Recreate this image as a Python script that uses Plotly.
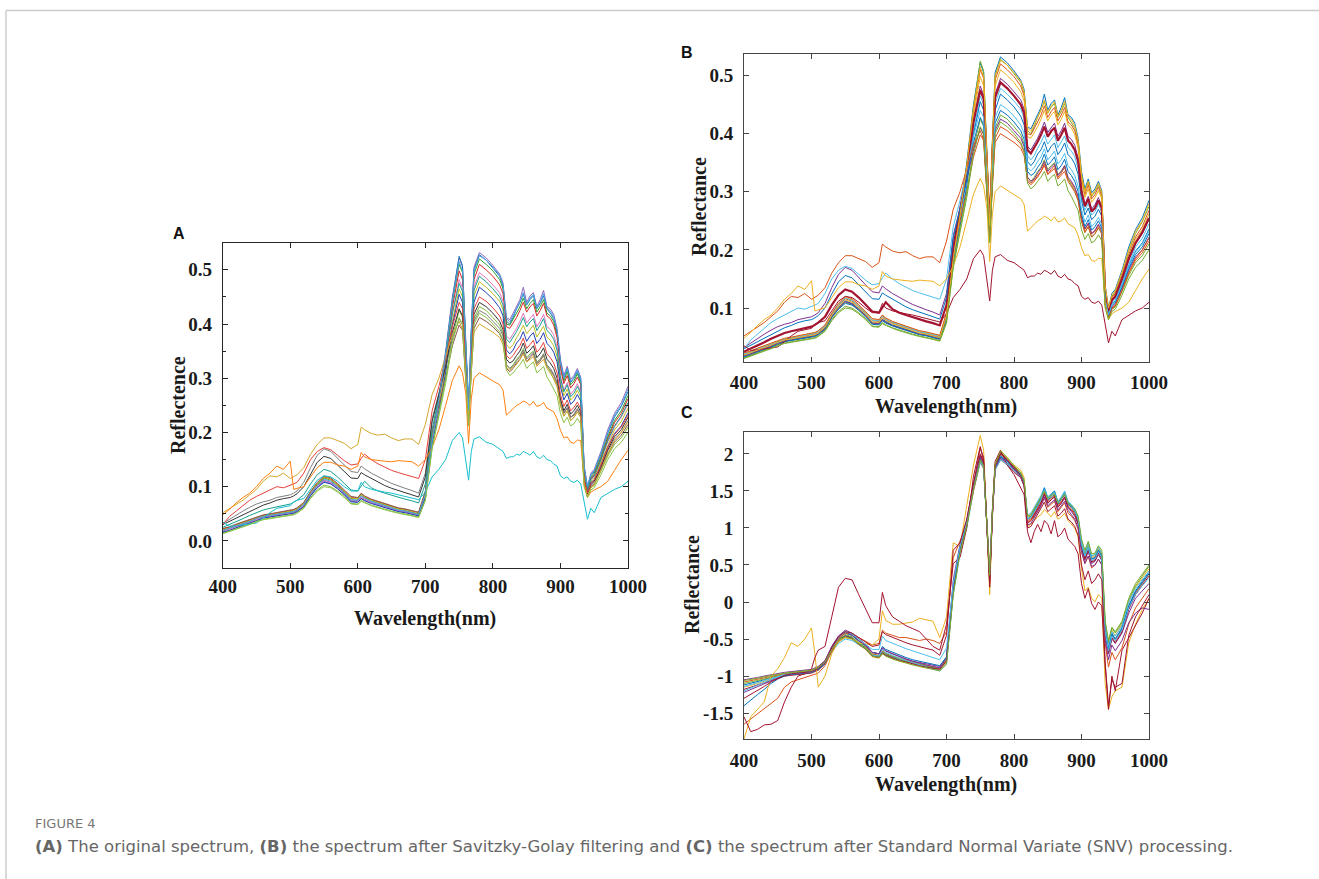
import plotly.graph_objects as go

# ---------------- data ----------------
wavelength = [400, 410, 420, 430, 440, 450, 460, 470, 480, 490,
              500, 505, 510, 520, 530, 540, 550, 560, 570, 580,
              590, 600, 605, 610, 620, 630, 640, 650, 660, 670,
              680, 690, 700, 710, 720, 730, 740, 750, 755, 760,
              764, 768, 772, 780, 790, 800, 810, 815, 820, 825,
              830, 835, 840, 845, 850, 855, 860, 865, 870, 875,
              880, 885, 890, 895, 900, 905, 910, 915, 920, 925,
              930, 935, 940, 945, 950, 960, 970, 980, 990, 1000]

# reflectance spectra (panels A and B)
raw_01 = [0.018,0.022,0.026,0.031,0.035,0.040,0.044,0.046,0.048,0.050,0.051,0.053,0.056,0.066,0.086,0.101,0.112,0.108,0.099,0.088,0.075,0.074,0.081,0.077,0.071,0.067,0.063,0.059,0.056,0.054,0.051,0.048,0.085,
          0.185,0.265,0.350,0.450,0.522,0.505,0.360,0.245,0.385,0.505,0.532,0.522,0.508,0.492,0.476,0.412,0.408,0.420,0.432,0.445,0.468,0.440,0.452,0.458,0.432,0.445,0.462,0.432,0.428,0.418,0.392,0.335,0.305,0.322,0.298,0.305,0.318,0.302,0.140,0.100,0.125,0.132,0.165,0.205,0.235,0.255,0.285]
raw_02 = [0.015,0.020,0.025,0.029,0.034,0.038,0.043,0.045,0.047,0.049,0.050,0.052,0.055,0.064,0.084,0.099,0.110,0.106,0.097,0.086,0.073,0.072,0.079,0.075,0.070,0.066,0.062,0.058,0.055,0.053,0.050,0.047,0.080,
          0.180,0.258,0.345,0.445,0.525,0.508,0.365,0.250,0.390,0.500,0.528,0.518,0.503,0.488,0.470,0.405,0.400,0.412,0.428,0.440,0.455,0.435,0.445,0.452,0.428,0.438,0.452,0.428,0.420,0.410,0.385,0.330,0.300,0.318,0.292,0.300,0.312,0.296,0.135,0.098,0.120,0.128,0.160,0.198,0.228,0.248,0.275]
raw_03 = [0.020,0.024,0.028,0.033,0.037,0.042,0.046,0.048,0.050,0.052,0.053,0.055,0.058,0.068,0.088,0.104,0.116,0.112,0.102,0.090,0.078,0.077,0.085,0.080,0.074,0.070,0.066,0.062,0.059,0.056,0.053,0.050,0.088,
          0.190,0.262,0.342,0.440,0.510,0.495,0.355,0.240,0.378,0.492,0.520,0.510,0.498,0.482,0.465,0.400,0.398,0.408,0.420,0.432,0.448,0.428,0.438,0.445,0.422,0.432,0.445,0.420,0.415,0.405,0.380,0.322,0.295,0.312,0.288,0.295,0.308,0.292,0.132,0.095,0.118,0.125,0.155,0.192,0.222,0.240,0.268]
raw_04 = [0.022,0.025,0.030,0.034,0.039,0.043,0.047,0.049,0.051,0.053,0.055,0.057,0.060,0.070,0.090,0.106,0.118,0.114,0.104,0.092,0.080,0.079,0.087,0.082,0.076,0.072,0.068,0.064,0.060,0.058,0.055,0.052,0.090,
          0.188,0.255,0.335,0.430,0.498,0.482,0.345,0.235,0.370,0.482,0.510,0.500,0.488,0.472,0.456,0.395,0.392,0.402,0.412,0.425,0.440,0.422,0.432,0.438,0.415,0.425,0.438,0.415,0.410,0.398,0.375,0.318,0.290,0.305,0.282,0.290,0.302,0.288,0.128,0.092,0.115,0.122,0.152,0.188,0.218,0.235,0.262]
raw_05 = [0.017,0.021,0.025,0.030,0.034,0.039,0.043,0.045,0.047,0.049,0.050,0.052,0.055,0.065,0.085,0.100,0.111,0.107,0.098,0.087,0.074,0.073,0.080,0.076,0.070,0.066,0.062,0.058,0.055,0.053,0.050,0.047,0.082,
          0.182,0.250,0.325,0.418,0.482,0.466,0.335,0.232,0.360,0.468,0.495,0.485,0.472,0.458,0.442,0.378,0.372,0.382,0.392,0.405,0.420,0.402,0.410,0.418,0.395,0.405,0.418,0.395,0.390,0.380,0.358,0.305,0.278,0.292,0.270,0.278,0.290,0.275,0.125,0.092,0.112,0.118,0.148,0.182,0.210,0.228,0.252]
raw_06 = [0.021,0.024,0.029,0.033,0.038,0.042,0.046,0.048,0.050,0.052,0.054,0.056,0.059,0.069,0.089,0.105,0.117,0.113,0.103,0.091,0.079,0.078,0.086,0.081,0.075,0.071,0.067,0.063,0.059,0.057,0.054,0.051,0.088,
          0.195,0.252,0.318,0.405,0.465,0.450,0.325,0.228,0.348,0.452,0.478,0.468,0.456,0.442,0.426,0.362,0.355,0.362,0.375,0.385,0.398,0.382,0.390,0.398,0.376,0.385,0.396,0.376,0.370,0.360,0.340,0.292,0.268,0.280,0.260,0.266,0.278,0.265,0.120,0.090,0.110,0.115,0.145,0.178,0.205,0.220,0.245]
raw_07 = [0.016,0.019,0.024,0.028,0.033,0.037,0.042,0.044,0.046,0.048,0.049,0.051,0.054,0.063,0.083,0.098,0.108,0.105,0.096,0.085,0.072,0.071,0.078,0.074,0.069,0.065,0.061,0.057,0.054,0.052,0.049,0.046,0.080,
          0.178,0.240,0.310,0.398,0.455,0.440,0.318,0.222,0.340,0.440,0.468,0.458,0.446,0.430,0.415,0.352,0.345,0.352,0.365,0.372,0.386,0.368,0.378,0.384,0.364,0.372,0.384,0.364,0.358,0.348,0.330,0.285,0.260,0.272,0.252,0.258,0.270,0.258,0.118,0.088,0.108,0.112,0.140,0.172,0.198,0.212,0.236]
raw_08 = [0.023,0.026,0.031,0.035,0.040,0.044,0.048,0.050,0.052,0.054,0.056,0.058,0.061,0.071,0.091,0.108,0.120,0.116,0.106,0.094,0.082,0.080,0.088,0.083,0.077,0.073,0.069,0.065,0.061,0.059,0.056,0.053,0.092,
          0.200,0.250,0.300,0.360,0.398,0.388,0.290,0.215,0.310,0.392,0.412,0.405,0.395,0.382,0.368,0.318,0.312,0.318,0.328,0.335,0.348,0.330,0.338,0.345,0.325,0.332,0.342,0.322,0.315,0.305,0.290,0.255,0.235,0.245,0.228,0.232,0.242,0.232,0.108,0.085,0.100,0.105,0.130,0.160,0.182,0.195,0.215]
raw_09 = [0.014,0.018,0.022,0.027,0.031,0.036,0.040,0.042,0.044,0.046,0.047,0.049,0.052,0.061,0.080,0.094,0.103,0.100,0.092,0.082,0.069,0.068,0.075,0.071,0.066,0.062,0.058,0.055,0.052,0.050,0.047,0.044,0.076,
          0.172,0.235,0.298,0.375,0.425,0.412,0.300,0.215,0.322,0.410,0.432,0.425,0.412,0.398,0.382,0.325,0.318,0.325,0.335,0.342,0.355,0.338,0.345,0.350,0.330,0.335,0.345,0.322,0.312,0.300,0.285,0.250,0.230,0.240,0.222,0.228,0.238,0.228,0.106,0.083,0.098,0.102,0.128,0.156,0.178,0.190,0.210]
raw_10 = [0.025,0.030,0.036,0.041,0.047,0.052,0.057,0.060,0.063,0.066,0.068,0.071,0.075,0.085,0.105,0.122,0.132,0.128,0.118,0.106,0.094,0.092,0.100,0.110,0.098,0.092,0.088,0.084,0.080,0.077,0.074,0.070,0.105,
          0.205,0.268,0.335,0.420,0.475,0.460,0.335,0.238,0.358,0.462,0.488,0.478,0.465,0.450,0.435,0.372,0.366,0.375,0.386,0.398,0.412,0.395,0.404,0.410,0.388,0.398,0.410,0.388,0.382,0.372,0.352,0.300,0.275,0.288,0.266,0.272,0.285,0.272,0.125,0.094,0.114,0.120,0.150,0.185,0.212,0.230,0.255]
raw_11 = [0.032,0.040,0.048,0.055,0.062,0.068,0.072,0.075,0.080,0.083,0.085,0.088,0.092,0.108,0.135,0.158,0.170,0.165,0.152,0.140,0.128,0.126,0.138,0.133,0.125,0.118,0.112,0.106,0.101,0.097,0.093,0.088,0.125,
          0.225,0.272,0.320,0.372,0.410,0.398,0.300,0.222,0.322,0.405,0.425,0.418,0.405,0.392,0.378,0.325,0.318,0.322,0.332,0.340,0.352,0.335,0.342,0.348,0.328,0.335,0.345,0.325,0.318,0.308,0.292,0.256,0.236,0.246,0.228,0.234,0.244,0.234,0.110,0.086,0.102,0.108,0.134,0.165,0.188,0.200,0.222]
raw_12 = [0.030,0.036,0.042,0.048,0.054,0.060,0.066,0.070,0.075,0.078,0.080,0.083,0.087,0.100,0.124,0.145,0.156,0.152,0.140,0.128,0.116,0.115,0.126,0.122,0.115,0.108,0.102,0.097,0.093,0.089,0.085,0.081,0.118,
          0.220,0.270,0.322,0.385,0.428,0.415,0.310,0.226,0.330,0.418,0.440,0.432,0.420,0.405,0.390,0.335,0.328,0.332,0.342,0.350,0.365,0.346,0.352,0.360,0.338,0.345,0.356,0.335,0.328,0.318,0.300,0.262,0.240,0.252,0.234,0.240,0.250,0.238,0.112,0.087,0.104,0.110,0.136,0.168,0.192,0.205,0.228]
raw_13 = [0.030,0.045,0.055,0.065,0.075,0.082,0.088,0.095,0.100,0.098,0.102,0.105,0.108,0.125,0.150,0.165,0.172,0.168,0.158,0.148,0.140,0.142,0.152,0.160,0.150,0.142,0.136,0.130,0.126,0.122,0.119,0.115,0.150,
          0.240,0.285,0.335,0.395,0.440,0.428,0.318,0.230,0.338,0.428,0.450,0.442,0.430,0.415,0.400,0.342,0.336,0.342,0.352,0.360,0.374,0.355,0.362,0.370,0.348,0.355,0.366,0.345,0.338,0.328,0.310,0.270,0.248,0.260,0.240,0.246,0.256,0.244,0.115,0.088,0.106,0.112,0.140,0.172,0.196,0.210,0.232]
raw_14 = [0.052,0.060,0.068,0.075,0.085,0.095,0.110,0.120,0.118,0.125,0.115,0.118,0.122,0.135,0.160,0.178,0.190,0.190,0.185,0.180,0.170,0.178,0.210,0.205,0.198,0.195,0.197,0.190,0.185,0.188,0.188,0.178,0.215,
          0.270,0.300,0.340,0.380,0.405,0.390,0.300,0.225,0.310,0.385,0.400,0.392,0.385,0.375,0.362,0.320,0.315,0.320,0.325,0.335,0.345,0.330,0.335,0.340,0.322,0.328,0.335,0.318,0.310,0.300,0.285,0.250,0.230,0.240,0.222,0.228,0.238,0.228,0.105,0.082,0.098,0.104,0.130,0.160,0.185,0.200,0.220]
raw_15 = [0.048,0.058,0.070,0.080,0.088,0.100,0.115,0.125,0.138,0.132,0.147,0.095,0.097,0.100,0.118,0.135,0.145,0.145,0.140,0.138,0.132,0.138,0.163,0.155,0.150,0.148,0.147,0.146,0.148,0.147,0.146,0.138,0.150,
          0.172,0.205,0.250,0.296,0.323,0.310,0.270,0.180,0.262,0.300,0.310,0.302,0.295,0.288,0.278,0.232,0.238,0.245,0.250,0.253,0.258,0.255,0.250,0.257,0.248,0.250,0.255,0.245,0.242,0.238,0.225,0.204,0.190,0.192,0.182,0.180,0.186,0.185,0.106,0.080,0.090,0.094,0.100,0.110,0.130,0.150,0.167]
raw_16 = [0.035,0.027,0.028,0.030,0.031,0.033,0.042,0.052,0.060,0.062,0.065,0.072,0.075,0.078,0.096,0.112,0.120,0.118,0.110,0.100,0.092,0.092,0.108,0.100,0.095,0.092,0.090,0.088,0.085,0.082,0.078,0.076,0.090,
          0.118,0.132,0.150,0.185,0.200,0.190,0.150,0.112,0.165,0.188,0.192,0.182,0.178,0.170,0.165,0.152,0.155,0.155,0.160,0.158,0.165,0.162,0.158,0.165,0.155,0.152,0.158,0.150,0.148,0.142,0.138,0.120,0.115,0.118,0.110,0.108,0.112,0.105,0.070,0.040,0.060,0.052,0.080,0.088,0.095,0.100,0.110]
raw_17 = [0.019,0.023,0.027,0.032,0.036,0.041,0.045,0.047,0.049,0.051,0.052,0.054,0.057,0.067,0.087,0.102,0.114,0.110,0.100,0.089,0.076,0.075,0.083,0.079,0.073,0.069,0.065,0.061,0.057,0.055,0.052,0.049,0.086,
          0.184,0.260,0.345,0.442,0.515,0.498,0.358,0.242,0.382,0.498,0.526,0.518,0.505,0.490,0.472,0.410,0.404,0.416,0.426,0.440,0.458,0.436,0.448,0.455,0.430,0.440,0.456,0.430,0.424,0.414,0.388,0.328,0.300,0.318,0.294,0.302,0.315,0.300,0.138,0.100,0.122,0.130,0.162,0.200,0.232,0.250,0.280]
raw_18 = [0.013,0.017,0.021,0.026,0.030,0.035,0.039,0.041,0.043,0.045,0.046,0.048,0.051,0.060,0.078,0.092,0.100,0.098,0.090,0.080,0.068,0.067,0.073,0.070,0.065,0.061,0.057,0.054,0.051,0.049,0.046,0.043,0.074,
          0.170,0.232,0.290,0.365,0.412,0.400,0.295,0.212,0.315,0.400,0.420,0.412,0.400,0.385,0.370,0.315,0.305,0.310,0.318,0.325,0.335,0.318,0.325,0.330,0.310,0.315,0.322,0.302,0.292,0.280,0.268,0.235,0.218,0.228,0.212,0.216,0.226,0.216,0.100,0.080,0.094,0.098,0.122,0.150,0.170,0.182,0.200]

raw_spectra = [raw_01, raw_02, raw_03, raw_04, raw_05, raw_06, raw_07, raw_08, raw_09,
               raw_10, raw_11, raw_12, raw_13, raw_14, raw_15, raw_16, raw_17, raw_18]

# SNV-processed spectra (panel C)
snv_01 = [-1.12,-1.10,-1.07,-1.05,-1.02,-1.00,-0.98,-0.97,-0.96,-0.95,-0.94,-0.92,-0.90,-0.82,-0.65,-0.52,-0.45,-0.48,-0.56,-0.62,-0.72,-0.74,-0.68,-0.71,-0.75,-0.78,-0.80,-0.83,-0.85,-0.87,-0.89,-0.90,-0.80,
          0.15,0.70,1.05,1.55,1.95,1.85,1.05,0.35,1.20,1.80,1.98,1.90,1.80,1.72,1.62,1.12,1.15,1.22,1.30,1.38,1.50,1.38,1.42,1.45,1.32,1.38,1.45,1.32,1.28,1.22,1.10,0.78,0.62,0.75,0.58,0.60,0.70,0.62,-0.35,-0.62,-0.42,-0.50,-0.35,-0.05,0.15,0.28,0.40]
snv_02 = [-1.08,-1.06,-1.04,-1.02,-1.00,-0.98,-0.96,-0.95,-0.94,-0.93,-0.92,-0.90,-0.88,-0.80,-0.62,-0.49,-0.42,-0.45,-0.53,-0.60,-0.70,-0.72,-0.66,-0.69,-0.73,-0.76,-0.79,-0.82,-0.84,-0.86,-0.88,-0.89,-0.78,
          0.18,0.72,1.08,1.58,1.98,1.88,1.02,0.30,1.18,1.82,2.00,1.92,1.82,1.74,1.64,1.10,1.12,1.20,1.28,1.36,1.48,1.36,1.40,1.44,1.30,1.36,1.42,1.30,1.26,1.20,1.08,0.75,0.60,0.72,0.55,0.58,0.68,0.60,-0.40,-0.65,-0.45,-0.52,-0.38,-0.08,0.12,0.25,0.38]
snv_03 = [-1.15,-1.13,-1.10,-1.07,-1.04,-1.02,-1.00,-0.98,-0.97,-0.96,-0.95,-0.93,-0.91,-0.84,-0.67,-0.54,-0.48,-0.50,-0.58,-0.64,-0.74,-0.76,-0.70,-0.73,-0.77,-0.80,-0.82,-0.85,-0.87,-0.89,-0.91,-0.92,-0.82,
          0.12,0.68,1.02,1.52,1.92,1.82,1.08,0.38,1.22,1.78,1.95,1.88,1.78,1.70,1.60,1.15,1.18,1.25,1.32,1.40,1.52,1.40,1.44,1.48,1.35,1.40,1.48,1.35,1.30,1.25,1.12,0.80,0.65,0.78,0.60,0.62,0.72,0.65,-0.30,-0.58,-0.38,-0.46,-0.30,0.00,0.20,0.32,0.45]
snv_04 = [-1.05,-1.04,-1.02,-1.00,-0.98,-0.97,-0.95,-0.94,-0.93,-0.92,-0.91,-0.89,-0.87,-0.79,-0.60,-0.46,-0.38,-0.42,-0.50,-0.57,-0.68,-0.70,-0.62,-0.66,-0.70,-0.74,-0.77,-0.80,-0.82,-0.84,-0.86,-0.87,-0.75,
          0.20,0.75,1.10,1.60,1.97,1.87,1.00,0.28,1.15,1.80,1.96,1.88,1.78,1.70,1.58,1.08,1.10,1.18,1.25,1.32,1.45,1.33,1.38,1.42,1.28,1.33,1.40,1.28,1.22,1.16,1.05,0.72,0.56,0.68,0.52,0.55,0.64,0.56,-0.45,-0.70,-0.50,-0.56,-0.42,-0.15,0.05,0.15,0.25]
snv_05 = [-1.10,-1.08,-1.06,-1.04,-1.01,-0.99,-0.97,-0.96,-0.95,-0.94,-0.93,-0.91,-0.89,-0.81,-0.64,-0.51,-0.44,-0.47,-0.55,-0.61,-0.71,-0.73,-0.67,-0.70,-0.74,-0.77,-0.80,-0.82,-0.85,-0.87,-0.88,-0.90,-0.79,
          0.14,0.70,1.04,1.54,1.94,1.86,1.06,0.34,1.22,1.84,2.02,1.94,1.84,1.75,1.64,1.14,1.16,1.24,1.32,1.40,1.52,1.40,1.44,1.48,1.34,1.40,1.46,1.34,1.30,1.24,1.14,0.82,0.66,0.80,0.62,0.64,0.74,0.66,-0.28,-0.55,-0.35,-0.42,-0.28,0.02,0.22,0.35,0.48]
snv_06 = [-1.14,-1.12,-1.09,-1.06,-1.03,-1.01,-0.99,-0.98,-0.97,-0.96,-0.95,-0.93,-0.92,-0.84,-0.68,-0.56,-0.50,-0.52,-0.58,-0.63,-0.72,-0.73,-0.64,-0.68,-0.72,-0.76,-0.79,-0.82,-0.85,-0.88,-0.90,-0.93,-0.84,
          0.10,0.65,1.00,1.50,1.88,1.80,1.10,0.40,1.25,1.82,1.94,1.88,1.80,1.72,1.63,1.18,1.20,1.28,1.36,1.44,1.55,1.42,1.46,1.50,1.36,1.42,1.50,1.36,1.32,1.26,1.14,0.82,0.68,0.80,0.62,0.64,0.74,0.66,-0.32,-0.60,-0.40,-0.46,-0.32,0.00,0.18,0.30,0.42]
snv_07 = [-1.18,-1.15,-1.12,-1.08,-1.05,-1.02,-1.00,-0.99,-0.98,-0.97,-0.96,-0.94,-0.92,-0.83,-0.66,-0.53,-0.46,-0.49,-0.57,-0.63,-0.73,-0.75,-0.69,-0.72,-0.76,-0.79,-0.81,-0.84,-0.86,-0.88,-0.90,-0.91,-0.80,
          0.16,0.72,1.06,1.56,2.00,1.90,1.04,0.32,1.18,1.82,2.00,1.92,1.82,1.72,1.60,1.06,1.10,1.18,1.26,1.34,1.46,1.34,1.38,1.42,1.28,1.34,1.42,1.28,1.24,1.18,1.06,0.74,0.58,0.70,0.54,0.56,0.66,0.58,-0.42,-0.68,-0.48,-0.55,-0.40,-0.10,0.10,0.22,0.35]
snv_08 = [-1.40,-1.32,-1.25,-1.18,-1.10,-1.04,-1.00,-0.98,-0.97,-0.96,-0.95,-0.93,-0.91,-0.83,-0.65,-0.50,-0.42,-0.45,-0.53,-0.59,-0.68,-0.70,-0.60,-0.64,-0.68,-0.72,-0.75,-0.78,-0.80,-0.82,-0.84,-0.86,-0.74,
          0.22,0.74,1.08,1.58,1.92,1.84,1.08,0.36,1.20,1.80,1.96,1.90,1.80,1.72,1.62,1.12,1.14,1.22,1.32,1.40,1.54,1.40,1.45,1.50,1.34,1.40,1.48,1.34,1.30,1.24,1.12,0.76,0.62,0.74,0.58,0.60,0.70,0.62,-0.38,-0.64,-0.44,-0.50,-0.36,-0.06,0.14,0.26,0.38]
snv_09 = [-1.65,-1.58,-1.52,-1.45,-1.38,-1.30,-1.15,-1.08,-1.05,-1.02,-1.00,-0.98,-0.96,-0.86,-0.66,-0.50,-0.42,-0.43,-0.48,-0.52,-0.58,-0.56,-0.38,-0.42,-0.45,-0.48,-0.48,-0.50,-0.52,-0.50,-0.52,-0.56,-0.40,
          0.60,0.82,1.05,1.50,1.90,1.80,1.10,0.45,1.20,1.78,1.92,1.85,1.75,1.68,1.58,1.08,1.10,1.15,1.22,1.30,1.40,1.28,1.32,1.36,1.22,1.28,1.34,1.20,1.16,1.10,0.98,0.68,0.52,0.62,0.46,0.50,0.58,0.50,-0.55,-0.88,-0.68,-0.78,-0.62,-0.30,-0.08,0.05,0.18]
snv_10 = [-1.85,-1.55,-1.45,-1.35,-1.00,-0.90,-0.75,-0.55,-0.60,-0.50,-0.35,-0.70,-1.15,-1.00,-0.70,-0.52,-0.48,-0.50,-0.55,-0.56,-0.58,-0.50,-0.12,-0.25,-0.30,-0.30,-0.28,-0.27,-0.22,-0.24,-0.26,-0.48,-0.20,
          0.80,0.75,1.30,1.85,2.25,2.05,1.00,0.10,1.20,1.85,2.05,1.95,1.85,1.78,1.68,1.02,1.05,1.10,1.15,1.18,1.25,1.20,1.15,1.22,1.12,1.15,1.20,1.10,1.05,1.00,0.88,0.45,0.15,0.20,0.05,0.00,0.10,0.05,-1.10,-1.45,-1.28,-1.20,-1.15,-0.55,-0.30,-0.10,0.05]
snv_11 = [-1.55,-1.75,-1.72,-1.66,-1.65,-1.60,-1.35,-1.15,-1.00,-0.97,-0.90,-0.75,-0.65,-0.60,-0.20,0.20,0.32,0.30,0.10,-0.10,-0.28,-0.28,0.13,-0.05,-0.20,-0.26,-0.32,-0.36,-0.40,-0.50,-0.60,-0.65,-0.30,
          0.52,0.60,1.00,1.70,2.10,1.90,1.00,0.20,1.25,1.90,2.05,1.85,1.72,1.55,1.45,0.95,0.80,0.95,1.05,0.95,1.10,1.05,0.92,1.10,0.88,0.92,1.00,0.85,0.80,0.75,0.65,0.25,0.05,0.18,-0.02,-0.10,0.00,-0.05,-0.85,-1.45,-1.00,-1.20,-0.65,-0.48,-0.30,-0.15,0.05]
snv_12 = [-1.22,-1.18,-1.14,-1.10,-1.06,-1.02,-0.99,-0.97,-0.96,-0.95,-0.94,-0.92,-0.90,-0.80,-0.60,-0.46,-0.40,-0.44,-0.52,-0.58,-0.68,-0.70,-0.62,-0.66,-0.70,-0.74,-0.77,-0.80,-0.83,-0.85,-0.87,-0.89,-0.76,
          0.30,0.78,1.10,1.58,1.95,1.86,1.04,0.30,1.16,1.80,1.94,1.86,1.76,1.68,1.56,1.04,1.06,1.14,1.22,1.30,1.42,1.30,1.34,1.38,1.24,1.30,1.36,1.24,1.18,1.12,1.00,0.68,0.52,0.62,0.48,0.50,0.58,0.50,-0.50,-0.78,-0.58,-0.66,-0.52,-0.28,-0.15,-0.08,-0.10]
snv_13 = [-1.20,-1.16,-1.12,-1.08,-1.04,-1.01,-0.98,-0.97,-0.96,-0.95,-0.94,-0.92,-0.90,-0.82,-0.63,-0.48,-0.40,-0.43,-0.50,-0.56,-0.64,-0.64,-0.46,-0.52,-0.56,-0.60,-0.63,-0.66,-0.69,-0.72,-0.75,-0.78,-0.62,
          0.25,0.75,1.08,1.55,1.90,1.82,1.08,0.38,1.22,1.78,1.92,1.86,1.78,1.70,1.60,1.12,1.14,1.22,1.30,1.38,1.52,1.40,1.44,1.48,1.34,1.40,1.48,1.34,1.30,1.24,1.12,0.78,0.62,0.74,0.56,0.58,0.68,0.60,-0.40,-0.66,-0.46,-0.52,-0.38,-0.08,0.10,0.22,0.32]
snv_14 = [-1.30,-1.25,-1.20,-1.14,-1.08,-1.03,-0.99,-0.97,-0.96,-0.95,-0.94,-0.92,-0.90,-0.82,-0.62,-0.47,-0.40,-0.42,-0.48,-0.53,-0.60,-0.58,-0.40,-0.44,-0.48,-0.52,-0.55,-0.58,-0.60,-0.62,-0.65,-0.72,-0.45,
          0.70,0.80,1.12,1.62,2.08,1.95,1.00,0.25,1.20,1.85,2.02,1.92,1.80,1.70,1.58,1.00,1.02,1.10,1.18,1.25,1.35,1.22,1.26,1.30,1.16,1.20,1.26,1.12,1.08,1.02,0.90,0.50,0.30,0.42,0.25,0.30,0.38,0.30,-0.80,-1.40,-1.05,-1.15,-1.10,-0.45,-0.20,-0.05,0.10]
snv_15 = [-1.06,-1.05,-1.03,-1.01,-0.99,-0.98,-0.96,-0.95,-0.94,-0.93,-0.92,-0.90,-0.88,-0.81,-0.64,-0.52,-0.47,-0.50,-0.57,-0.63,-0.73,-0.75,-0.70,-0.73,-0.77,-0.80,-0.82,-0.85,-0.87,-0.89,-0.91,-0.93,-0.84,
          0.10,0.66,1.02,1.52,1.92,1.84,1.06,0.36,1.22,1.86,2.04,1.95,1.84,1.74,1.64,1.16,1.18,1.26,1.34,1.42,1.50,1.40,1.44,1.46,1.34,1.40,1.46,1.34,1.30,1.26,1.16,0.85,0.70,0.82,0.65,0.66,0.76,0.70,-0.25,-0.52,-0.34,-0.40,-0.26,0.05,0.25,0.38,0.50]

snv_spectra = [snv_01, snv_02, snv_03, snv_04, snv_05, snv_06, snv_07, snv_08,
               snv_09, snv_10, snv_11, snv_12, snv_13, snv_14, snv_15]

x_ticks = [400, 500, 600, 700, 800, 900, 1000]
a_yticks = [0.0, 0.1, 0.2, 0.3, 0.4, 0.5]
a_yticklabels = ["0.0", "0.1", "0.2", "0.3", "0.4", "0.5"]
b_yticks = [0.1, 0.2, 0.3, 0.4, 0.5]
b_yticklabels = ["0.1", "0.2", "0.3", "0.4", "0.5"]
c_yticks = [-1.5, -1, -0.5, 0, 0.5, 1, 1.5, 2]
c_yticklabels = ["-1.5", "-1", "-0.5", "0", "0.5", "1", "1.5", "2"]

colors_a = ["#9467bd", "#1f77b4", "#2ca02c", "#d62728", "#e377c2", "#bcbd22",
            "#1f3fb4", "#8c564b", "#7fbf3f", "#17a08f", "#7f7f7f", "#333333",
            "#e8413a", "#d4a72c", "#ff7f0e", "#17becf", "#4a9fe0", "#8bc34a"]
colors_b = ["#0072BD", "#77AC30", "#D95319", "#EDB120", "#7E2F8E", "#4DBEEE",
            "#0072BD", "#D95319", "#77AC30", "#A2142F", "#7E2F8E", "#0072BD",
            "#4DBEEE", "#D95319", "#EDB120", "#A2142F", "#EDB120", "#77AC30"]
widths_b = [1, 1, 1, 1, 1, 1, 1, 1, 1, 2.2, 1, 1, 1, 1, 1, 1, 1, 1]
colors_c = ["#0072BD", "#D95319", "#EDB120", "#7E2F8E", "#77AC30", "#4DBEEE",
            "#A2142F", "#0072BD", "#D95319", "#EDB120", "#A2142F", "#7E2F8E",
            "#4DBEEE", "#A2142F", "#77AC30"]

# ---------------- figure ----------------
W, H = 1319, 879


def px(x):
    return x / W


def py(y):
    return 1 - y / H


fig = go.Figure()
for sp, ca in zip(raw_spectra, colors_a):
    fig.add_trace(go.Scatter(x=wavelength, y=sp, mode="lines", line=dict(color=ca, width=1),
                             xaxis="x", yaxis="y", hoverinfo="skip"))
for sp, cb, wb in zip(raw_spectra, colors_b, widths_b):
    fig.add_trace(go.Scatter(x=wavelength, y=sp, mode="lines", line=dict(color=cb, width=wb),
                             xaxis="x2", yaxis="y2", hoverinfo="skip"))
for sp, cc in zip(snv_spectra, colors_c):
    fig.add_trace(go.Scatter(x=wavelength, y=sp, mode="lines", line=dict(color=cc, width=1),
                             xaxis="x3", yaxis="y3", hoverinfo="skip"))

tick_font = dict(family="Liberation Serif", size=19, color="#1a1a1a", weight="bold")


def xax(domain, anchor, lc, standoff):
    return dict(domain=domain, anchor=anchor, range=[400, 1000], tickvals=x_ticks,
                ticks="inside", ticklen=5, tickcolor=lc, showline=True, mirror="ticks",
                linecolor=lc, linewidth=1, showgrid=False, zeroline=False, automargin=False,
                tickfont=tick_font, ticklabelstandoff=standoff)


def yax(domain, anchor, lc, rng, tv, tt):
    return dict(domain=domain, anchor=anchor, range=rng, tickvals=tv, ticktext=tt,
                ticks="inside", ticklen=5, tickcolor=lc, showline=True, mirror="ticks",
                linecolor=lc, linewidth=1, showgrid=False, zeroline=False, automargin=False,
                tickfont=tick_font, ticklabelstandoff=6)


xa = [px(222.7), px(628)]
xb = [px(744), px(1149)]
fig.update_layout(
    width=W, height=H, margin=dict(l=0, r=0, t=0, b=0, autoexpand=False),
    paper_bgcolor="white", plot_bgcolor="white", showlegend=False,
    xaxis=xax(xa, "y", "#262626", 1),
    yaxis=yax([py(568), py(242.7)], "x", "#262626", [-0.05, 0.55], a_yticks, a_yticklabels),
    xaxis2=xax(xb, "y2", "#454545", 4),
    yaxis2=yax([py(361.5), py(54)], "x2", "#454545", [0.008, 0.537], b_yticks, b_yticklabels),
    xaxis3=xax(xb, "y3", "#454545", 4),
    yaxis3=yax([py(739), py(431.7)], "x3", "#454545", [-1.85, 2.30], c_yticks, c_yticklabels),
)
fig.layout.yaxis.minor = dict(tickvals=[-0.05, 0.05, 0.15, 0.25, 0.35, 0.45, 0.55],
                              ticks="inside", ticklen=3, tickcolor="#262626")

title_font = dict(family="Liberation Serif", size=20, color="#1a1a1a", weight="bold")
letter_font = dict(family="Liberation Sans", size=16, color="#111111", weight="bold")
ann = []


def add_text(text, x, y, font, angle=0, xanchor="center"):
    ann.append(dict(text=text, x=px(x), y=py(y), xref="paper", yref="paper", showarrow=False,
                    font=font, textangle=angle, xanchor=xanchor, yanchor="middle"))


add_text("Wavelength(nm)", 425, 618, title_font)
add_text("Reflectence", 178, 405, title_font, angle=-90)
add_text("Wavelength(nm)", 946, 406, title_font)
add_text("Reflectance", 699, 207, title_font, angle=-90)
add_text("Wavelength(nm)", 946, 784, title_font)
add_text("Reflectance", 692, 585, title_font, angle=-90)
add_text("A", 179, 234, letter_font)
add_text("B", 687, 53, letter_font)
add_text("C", 687, 413, letter_font)
add_text("FIGURE 4", 33, 823, dict(family="DejaVu Sans", size=13, color="#777777"), xanchor="left")
add_text("<b>(A)</b> The original spectrum, <b>(B)</b> the spectrum after Savitzky-Golay filtering and "
         "<b>(C)</b> the spectrum after Standard Normal Variate (SNV) processing.",
         33, 846, dict(family="DejaVu Sans", size=16.5, color="#666666"), xanchor="left")
fig.update_layout(annotations=ann)

fig.update_layout(shapes=[
    dict(type="line", xref="paper", yref="paper", x0=px(6), x1=1, y0=py(10.5), y1=py(10.5),
         line=dict(color="#cccccc", width=1.5)),
    dict(type="line", xref="paper", yref="paper", x0=px(6), x1=px(6), y0=py(10.5), y1=0,
         line=dict(color="#cccccc", width=1.5)),
])

fig.write_html("out.html")
